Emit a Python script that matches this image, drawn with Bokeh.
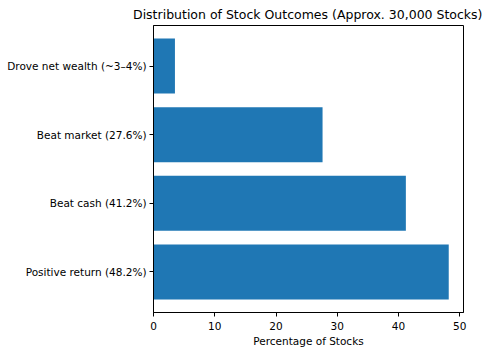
from bokeh.plotting import figure
from bokeh.models import Range1d, FixedTicker
from bokeh.embed import file_html
from bokeh.resources import INLINE

categories = ["Positive return (48.2%)", "Beat cash (41.2%)", "Beat market (27.6%)", "Drove net wealth (~3–4%)"]
values = [48.2, 41.2, 27.6, 3.5]
x_ticks = [0, 10, 20, 30, 40, 50]
title_text = "Distribution of Stock Outcomes (Approx. 30,000 Stocks)"

positions = list(range(len(categories)))

p = figure(width=489, height=351, output_backend="svg", toolbar_location=None,
           x_range=Range1d(0, max(values) * 1.05),
           y_range=Range1d(-0.4 - 0.19, len(categories) - 0.6 + 0.19),
           min_border_left=153, min_border_right=26, min_border_top=24, min_border_bottom=39)

p.hbar(y=positions, left=0, right=values, height=0.8, color="#1f77b4", line_color=None)

p.title.text = title_text
p.title.align = "right"
p.title.offset = -19
p.title.standoff = 8
p.title.text_font = "DejaVu Sans"
p.title.text_font_style = "normal"
p.title.text_font_size = "12.5px"
p.title.text_color = "black"

p.xgrid.visible = False
p.ygrid.visible = False
p.outline_line_color = "black"
p.outline_line_width = 1
p.background_fill_color = "white"
p.border_fill_color = "white"

p.xaxis.ticker = FixedTicker(ticks=x_ticks)
p.yaxis.ticker = FixedTicker(ticks=positions)
p.yaxis.major_label_overrides = {i: c for i, c in enumerate(categories)}
p.xaxis.axis_label = "Percentage of Stocks"

for ax in (p.xaxis, p.yaxis):
    ax.major_label_text_font = "DejaVu Sans"
    ax.major_label_text_font_size = "10.5px"
    ax.major_label_text_color = "black"
    ax.axis_label_text_font = "DejaVu Sans"
    ax.axis_label_text_font_size = "10.5px"
    ax.axis_label_text_font_style = "normal"
    ax.axis_label_text_color = "black"
    ax.minor_tick_line_color = None
    ax.major_tick_in = 0
    ax.major_tick_out = 4
    ax.major_tick_line_color = "black"
    ax.axis_line_color = "black"
p.xaxis.axis_label_standoff = 2
p.xaxis.major_label_standoff = 5
p.yaxis.major_label_standoff = 3

open("out.html", "w").write(file_html(p, INLINE))
